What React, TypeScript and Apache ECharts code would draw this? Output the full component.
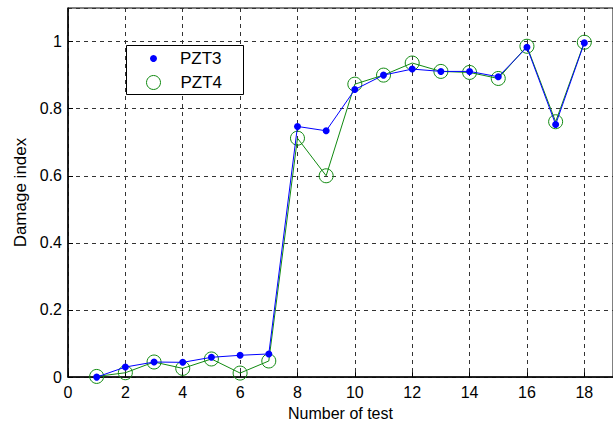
import React, { useEffect, useRef } from "react";
import * as echarts from "echarts";

const tests = [1, 2, 3, 4, 5, 6, 7, 8, 9, 10, 11, 12, 13, 14, 15, 16, 17, 18];
const pzt3 = [0.0, 0.03, 0.045, 0.044, 0.059, 0.065, 0.069, 0.747, 0.734, 0.857, 0.9, 0.918, 0.911, 0.911, 0.895, 0.983, 0.753, 0.996];
const pzt4 = [0.002, 0.013, 0.045, 0.026, 0.054, 0.012, 0.048, 0.712, 0.6, 0.873, 0.9, 0.936, 0.911, 0.908, 0.89, 0.986, 0.761, 0.998];
const xTicks = [0, 2, 4, 6, 8, 10, 12, 14, 16, 18];
const yTicks = [0, 0.2, 0.4, 0.6, 0.8, 1];

const BLUE = "#0000ff";
const GREEN = "#108a10";
const FONT = "Liberation Sans, Arial, sans-serif";

export default function App() {
  const ref = useRef<HTMLDivElement>(null);
  useEffect(() => {
    if (!ref.current) return;
    const chart = echarts.init(ref.current, undefined, { renderer: "svg" });
    const gridLine = { show: true, lineStyle: { color: "#333", type: [4, 4] as any, width: 1 } };
    chart.setOption({
      animation: false,
      backgroundColor: "#fff",
      textStyle: { fontFamily: FONT },
      grid: { left: 68, top: 8, width: 548, height: 370.5, show: true, borderColor: "#000", borderWidth: 1, backgroundColor: "transparent" },
      xAxis: {
        type: "value",
        min: 0,
        max: 19,
        interval: 2,
        name: "Number of test",
        nameLocation: "middle",
        nameGap: 25,
        nameTextStyle: { color: "#000", fontSize: 16, fontFamily: FONT },
        axisLine: { show: true, lineStyle: { color: "#000", width: 1.5 } },
        axisTick: { show: true, inside: true, length: 5, lineStyle: { color: "#000" } },
        axisLabel: {
          color: "#000",
          fontSize: 16,
          margin: 7,
          showMaxLabel: false,
          formatter: (v: number) => (xTicks.includes(v) ? String(v) : ""),
        },
        splitLine: gridLine,
      },
      yAxis: {
        type: "value",
        min: 0,
        max: 1.1,
        interval: 0.2,
        name: "Damage index",
        nameLocation: "middle",
        nameGap: 37,
        nameTextStyle: { color: "#000", fontSize: 17, fontFamily: FONT },
        axisLine: { show: true, lineStyle: { color: "#000", width: 1.5 } },
        axisTick: { show: true, inside: true, length: 5, lineStyle: { color: "#000" } },
        axisLabel: {
          color: "#000",
          fontSize: 16,
          margin: 6,
          showMaxLabel: false,
          formatter: (v: number) => {
            const r = Math.round(v * 10) / 10;
            return yTicks.some((t) => Math.abs(t - r) < 1e-9) ? String(r) : "";
          },
        },
        splitLine: gridLine,
      },
      legend: [
        {
          data: [{ name: "PZT3", icon: "circle", itemStyle: { color: BLUE } }],
          left: 150,
          top: 50,
          z: 100,
          itemWidth: 7,
          itemHeight: 7,
          itemGap: 0,
          padding: 0,
          textStyle: { color: "#000", fontSize: 17, fontFamily: FONT, padding: [0, 0, 0, 18] },
          selectedMode: false,
        },
        {
          data: [{ name: "PZT4", icon: "circle", itemStyle: { color: "rgba(0,0,0,0)", borderColor: GREEN, borderWidth: 1 } }],
          left: 146,
          top: 74,
          z: 100,
          itemWidth: 14,
          itemHeight: 14,
          itemGap: 0,
          padding: 0,
          textStyle: { color: "#000", fontSize: 17, fontFamily: FONT, padding: [0, 0, 0, 15] },
          selectedMode: false,
        },
      ],
      graphic: [
        {
          type: "rect",
          left: 126,
          top: 45,
          shape: { width: 117, height: 49 },
          style: { fill: "#fff", stroke: "#000", lineWidth: 1 },
          z: 50,
        },
      ],
      series: [
        {
          name: "PZT4",
          type: "line",
          data: tests.map((t, i) => [t, pzt4[i]]),
          symbol: "circle",
          symbolSize: 14,
          lineStyle: { color: GREEN, width: 1 },
          itemStyle: { color: "rgba(0,0,0,0)", borderColor: GREEN, borderWidth: 1 },
          z: 2,
        },
        {
          name: "PZT3",
          type: "line",
          data: tests.map((t, i) => [t, pzt3[i]]),
          symbol: "circle",
          symbolSize: 7,
          lineStyle: { color: BLUE, width: 1 },
          itemStyle: { color: BLUE },
          z: 3,
        },
      ],
    });
    return () => chart.dispose();
  }, []);
  return <div ref={ref} style={{ position: "fixed", left: 0, top: 0, width: 613, height: 426 }} />;
}
